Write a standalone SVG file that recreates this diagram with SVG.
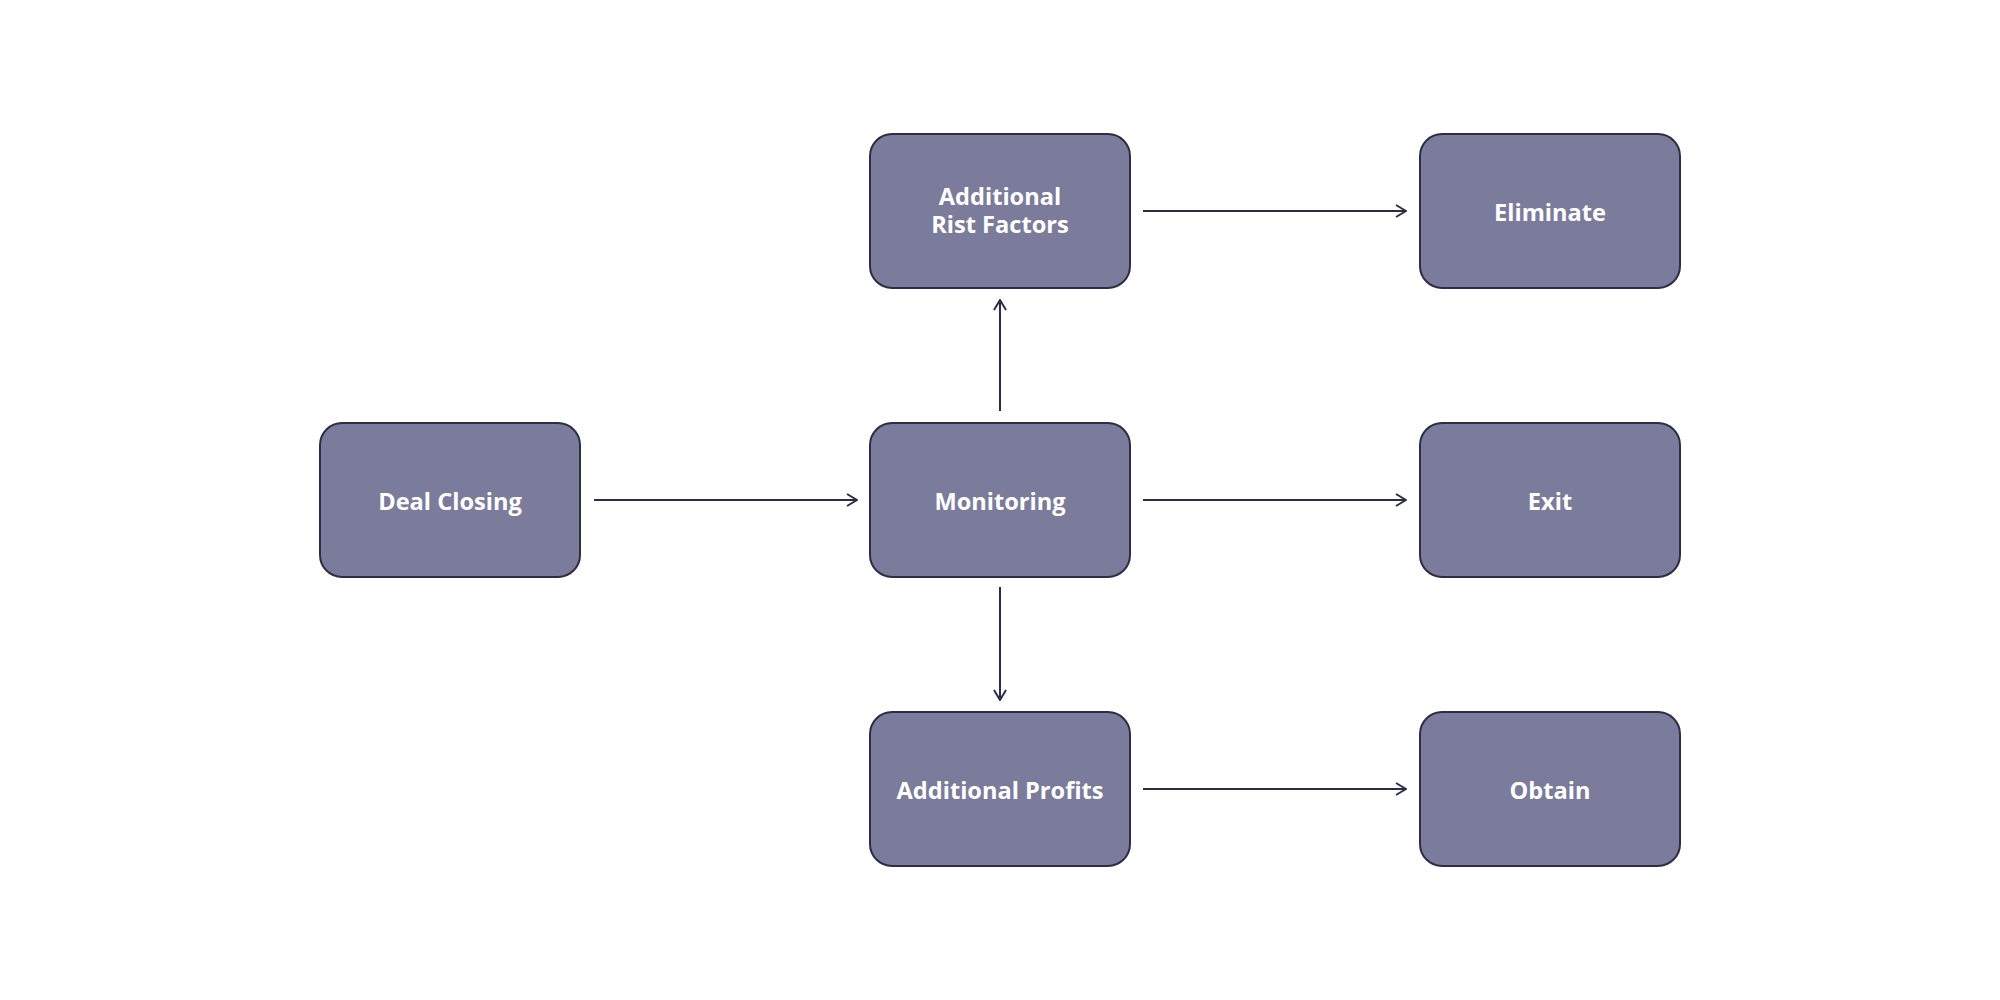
<svg xmlns="http://www.w3.org/2000/svg" width="2000" height="1000" viewBox="0 0 2000 1000">
<defs>
<style>
.box{fill:#7b7b9b;stroke:#2d2d47;stroke-width:2}
.lbl{fill:#ffffff;font-family:"Open Sans","Liberation Sans",sans-serif;font-weight:700;font-size:23.6px;text-anchor:middle;dominant-baseline:central}
.edge{stroke:#2d2d47;stroke-width:2;fill:none;marker-end:url(#arr)}
</style>
<marker id="arr" viewBox="0 0 12 14" refX="11" refY="7" markerWidth="12" markerHeight="14" markerUnits="userSpaceOnUse" orient="auto">
<path d="M1,1 L11,7 L1,13" fill="none" stroke="#2d2d47" stroke-width="2"/>
</marker>
</defs>
<rect width="2000" height="1000" fill="#ffffff"/>
<g id="connectors">
<line class="edge" x1="594" y1="500" x2="857" y2="500"/>
<line class="edge" x1="1000" y1="411" x2="1000" y2="300"/>
<line class="edge" x1="1000" y1="587" x2="1000" y2="700"/>
<line class="edge" x1="1143" y1="211" x2="1406" y2="211"/>
<line class="edge" x1="1143" y1="500" x2="1406" y2="500"/>
<line class="edge" x1="1143" y1="789" x2="1406" y2="789"/>
</g>
<g id="deal-closing"><rect class="box" x="320" y="423" width="260" height="154" rx="22"/><text class="lbl" x="450" y="501">Deal Closing</text></g>
<g id="monitoring"><rect class="box" x="870" y="423" width="260" height="154" rx="22"/><text class="lbl" x="1000" y="501">Monitoring</text></g>
<g id="additional-risk"><rect class="box" x="870" y="134" width="260" height="154" rx="22"/><text class="lbl" x="1000" y="196">Additional</text><text class="lbl" x="1000" y="224">Rist Factors</text></g>
<g id="additional-profits"><rect class="box" x="870" y="712" width="260" height="154" rx="22"/><text class="lbl" x="1000" y="790">Additional Profits</text></g>
<g id="eliminate"><rect class="box" x="1420" y="134" width="260" height="154" rx="22"/><text class="lbl" x="1550" y="212">Eliminate</text></g>
<g id="exit"><rect class="box" x="1420" y="423" width="260" height="154" rx="22"/><text class="lbl" x="1550" y="501">Exit</text></g>
<g id="obtain"><rect class="box" x="1420" y="712" width="260" height="154" rx="22"/><text class="lbl" x="1550" y="790">Obtain</text></g>
</svg>
